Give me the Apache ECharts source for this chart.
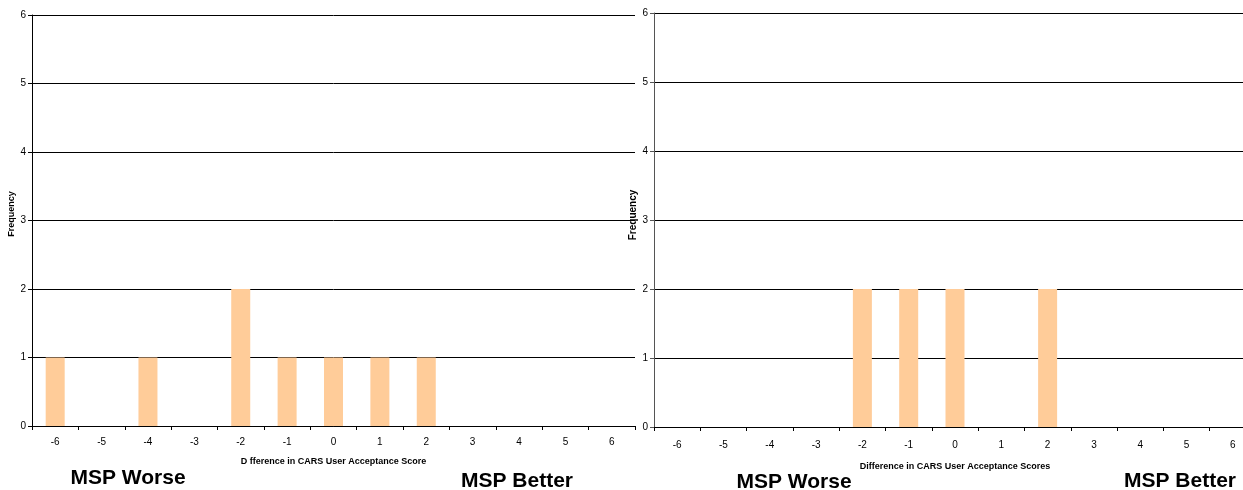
<!DOCTYPE html>
<html>
<head>
<meta charset="utf-8">
<script src="https://cdn.jsdelivr.net/npm/echarts@6/dist/echarts.min.js"></script>
<style>
html,body{margin:0;padding:0;background:#fff;overflow:hidden;width:1243px;height:490px;}
#c{width:1262px;height:490px;}
</style>
</head>
<body>
<div id="c"></div>
<script>
const categories = ['-6','-5','-4','-3','-2','-1','0','1','2','3','4','5','6'];
const leftValues = [1,0,1,0,2,1,1,1,1,0,0,0,0];
const rightValues = [0,0,0,0,2,2,2,0,2,0,0,0,0];
const yTicks = ['0','1','2','3','4','5','6'];
const leftXName = 'D fference in CARS User Acceptance Score';
const rightXName = 'Difference in CARS User Acceptance Scores';
const yName = 'Frequency';

const FONT = '"Liberation Sans", Arial, sans-serif';
const chart = echarts.init(document.getElementById('c'), null, {renderer:'canvas'});

function xAxis(gridIndex, name, gap, margin){
  return {
    type:'category', gridIndex, data:categories,
    name, nameLocation:'middle', nameGap:gap,
    nameTextStyle:{fontFamily:FONT,fontSize:9,fontWeight:'bold',color:'#000'},
    axisLine:{lineStyle:{color:'#000',width:1}},
    axisTick:{show:true,length:4,lineStyle:{color:'#000'}},
    axisLabel:{fontFamily:FONT,fontSize:10,color:'#000',margin:margin},
    splitLine:{show:false}
  };
}
function yAxis(gridIndex, lineColor){
  return {
    type:'value', gridIndex, min:0, max:6, interval:1,
    axisLine:{show:true,lineStyle:{color:lineColor,width:1}},
    axisTick:{show:true,length:4,lineStyle:{color:lineColor}},
    axisLabel:{fontFamily:FONT,fontSize:10,color:'#000',margin:6,
      formatter:(v)=>yTicks[v] !== undefined ? yTicks[v] : ''},
    splitLine:{show:true,lineStyle:{color:'#000',width:1}}
  };
}

const option = {
  animation:false,
  backgroundColor:'#fff',
  grid:[
    {left:32, top:15, width:603, height:411},
    {left:654, top:13, width:602, height:414}
  ],
  xAxis:[xAxis(0,leftXName,31,11), xAxis(1,rightXName,35,13)],
  yAxis:[yAxis(0,'#000'), yAxis(1,'#555')],
  series:[
    {type:'bar', xAxisIndex:0, yAxisIndex:0, data:leftValues, barWidth:19,
     itemStyle:{color:'#FFCC99'}},
    {type:'bar', xAxisIndex:1, yAxisIndex:1, data:rightValues, barWidth:19,
     itemStyle:{color:'#FFCC99'}}
  ],
  graphic:[
    {type:'text', x:12, y:214, rotation:Math.PI/2, style:{text:yName, font:'bold 9px '+FONT, fill:'#000', textAlign:'center', textVerticalAlign:'middle'}},
    {type:'text', x:633, y:215, rotation:Math.PI/2, style:{text:yName, font:'bold 10px '+FONT, fill:'#000', textAlign:'center', textVerticalAlign:'middle'}},
    {type:'text', x:128, y:478, style:{text:'MSP Worse', font:'bold 21px '+FONT, fill:'#000', textAlign:'center', textVerticalAlign:'middle'}},
    {type:'text', x:517, y:481, style:{text:'MSP Better', font:'bold 21px '+FONT, fill:'#000', textAlign:'center', textVerticalAlign:'middle'}},
    {type:'text', x:794, y:482, style:{text:'MSP Worse', font:'bold 21px '+FONT, fill:'#000', textAlign:'center', textVerticalAlign:'middle'}},
    {type:'text', x:1180, y:481, style:{text:'MSP Better', font:'bold 21px '+FONT, fill:'#000', textAlign:'center', textVerticalAlign:'middle'}}
  ]
};
chart.setOption(option);
</script>
</body>
</html>
